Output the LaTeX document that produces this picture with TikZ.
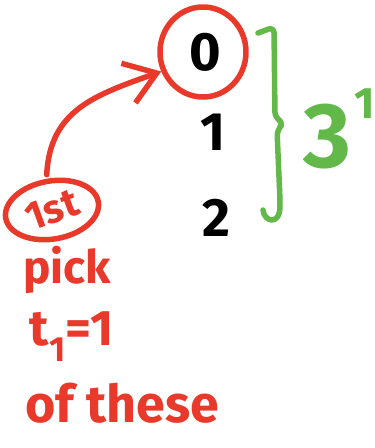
\documentclass[tikz,border=0pt]{standalone}
\usepackage{fontspec}
\setmainfont{Fira Sans}
\usetikzlibrary{arrows.meta,positioning,shapes.geometric}
\definecolor{penred}{HTML}{E8392A}
\definecolor{pengreen}{HTML}{62B94A}

\begin{document}
\begin{tikzpicture}[x=1pt, y=-1pt, >={Straight Barb[length=30pt,width=42pt]},
    every node/.style={inner sep=0pt, font=\bfseries},
    ink/.style={line width=5.5pt, line cap=round, line join=round},
    digit/.style={font=\fontsize{54}{54}\selectfont\bfseries},
    note/.style={text=penred, font=\fontsize{46}{46}\selectfont\bfseries}]
    \useasboundingbox (0,0) rectangle (375,448);

    \node[digit] (zero) at (205,52) {0};
    \node[digit] (one) at (213,132) {1};
    \node[digit] (two) at (216,218) {2};
    \node[ink, draw=penred, ellipse, minimum width=86pt, minimum height=90pt] (ring) at (203,52) {};

    \draw[ink, pengreen, rounded corners=6pt] (258,33) -- (274,27) -- (275,118) -- (284,123) -- (277,130) -- (280,200) .. controls (280,226) and (264,222) .. (263,210);
    \node[text=pengreen, font=\fontsize{92}{92}\selectfont\bfseries] (three) at (327,137) {3};
    \node[text=pengreen, font=\fontsize{44}{44}\selectfont\bfseries, anchor=north west] (power) at ([xshift=3pt,yshift=16pt]three.north east) {1};

    \node[ink, draw=penred, text=penred, ellipse, rotate=10, minimum width=94pt, minimum height=58pt,
        font=\fontsize{40}{40}\selectfont\bfseries] (first) at (52,210) {\rotatebox{10}{1st}};
    \node[note] (pick) at (67,270) {pick};
    \node[note, below=18pt of pick.south, anchor=north, xshift=5pt, font=\fontsize{50}{50}\selectfont\bfseries] (rule) {t\textsubscript{1}=1};
    \node[note, below=22pt of rule.south, anchor=north, xshift=50pt, font=\fontsize{52}{52}\selectfont\bfseries] (these) {of these};

    \draw[ink, penred, ->, shorten <=4pt] (first.north) .. controls (50,110) and (95,95) .. (ring.205);
\end{tikzpicture}
\end{document}
